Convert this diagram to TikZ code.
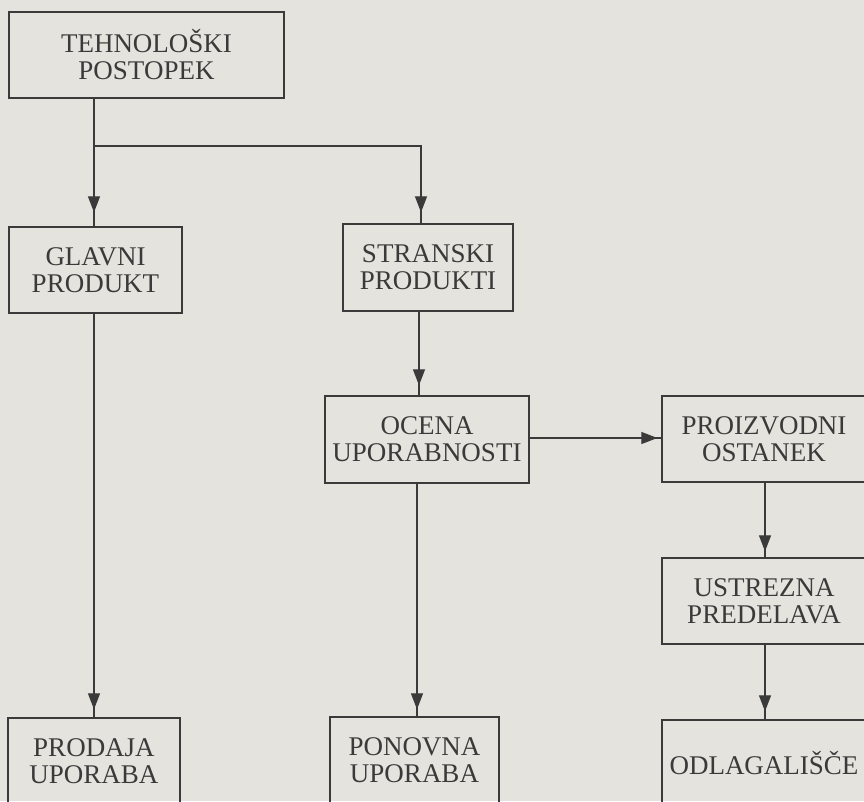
\documentclass[tikz,border=0pt]{standalone}
\usepackage{fontspec}
\setmainfont{Liberation Serif}
\usetikzlibrary{arrows.meta,decorations.markings}
\definecolor{paper}{RGB}{229,227,221}
\definecolor{ink}{RGB}{58,58,58}
\tikzset{
  box/.style={draw=ink, line width=1.3pt, minimum height=86pt, inner sep=0pt,
    align=center, text=ink, font=\fontsize{27}{27}\selectfont},
  conn/.style={color=ink, draw, line width=1.2pt},
  tipat/.style={postaction={decorate}, decoration={markings,
    mark=at position -#1 with {\arrow{Triangle[length=16pt,width=12pt]}}}},
}
\begin{document}
\begin{tikzpicture}[x=1pt,y=-1pt]
\fill[paper] (0,0) rectangle (864,801);
\useasboundingbox (0,0) rectangle (864,801);
\clip (0,0) rectangle (864,801);

\node[box, minimum width=275pt] (teh) at (146.5,55) {TEHNOLOŠKI\\POSTOPEK};
\node[box, minimum width=173pt] (glavni) at (95.5,270) {GLAVNI\\PRODUKT};
\node[box, minimum width=170pt, minimum height=87pt] (stranski) at (428,267.5) {STRANSKI\\PRODUKTI};
\node[box, minimum width=204pt, minimum height=87pt] (ocena) at (427,439.5) {OCENA\\UPORABNOSTI};
\node[box, minimum width=204pt] (proiz) at (764,439) {PROIZVODNI\\OSTANEK};
\node[box, minimum width=204pt] (ustrezna) at (764,601) {USTREZNA\\PREDELAVA};
\node[box, minimum width=204pt, minimum height=87pt] (odlag) at (764,763.5) {ODLAGALIŠČE};
\node[box, minimum width=172pt, minimum height=87pt] (prodaja) at (94,761.5) {PRODAJA\\UPORABA};
\node[box, minimum width=169pt, minimum height=87pt] (ponovna) at (414.5,760.5) {PONOVNA\\UPORABA};

\coordinate (br) at (94,146);

\draw[conn, tipat=14pt] (teh.south -| br) -- (glavni.north -| br);
\draw[conn, tipat=11pt] (br) -- (421,146) -- (stranski.north -| 421,0);
\draw[conn, tipat=10pt] (stranski.south -| 419,0) -- (ocena.north -| 419,0);
\draw[conn, tipat=4pt] (ocena.east |- 0,438) -- (proiz.west |- 0,438);
\draw[conn, tipat=6pt] (proiz.south -| 765,0) -- (ustrezna.north -| 765,0);
\draw[conn, tipat=8pt] (ustrezna.south -| 765,0) -- (odlag.north -| 765,0);
\draw[conn, tipat=8pt] (glavni.south -| br) -- (prodaja.north -| br);
\draw[conn, tipat=7pt] (ocena.south -| 417,0) -- (ponovna.north -| 417,0);
\end{tikzpicture}
\end{document}
